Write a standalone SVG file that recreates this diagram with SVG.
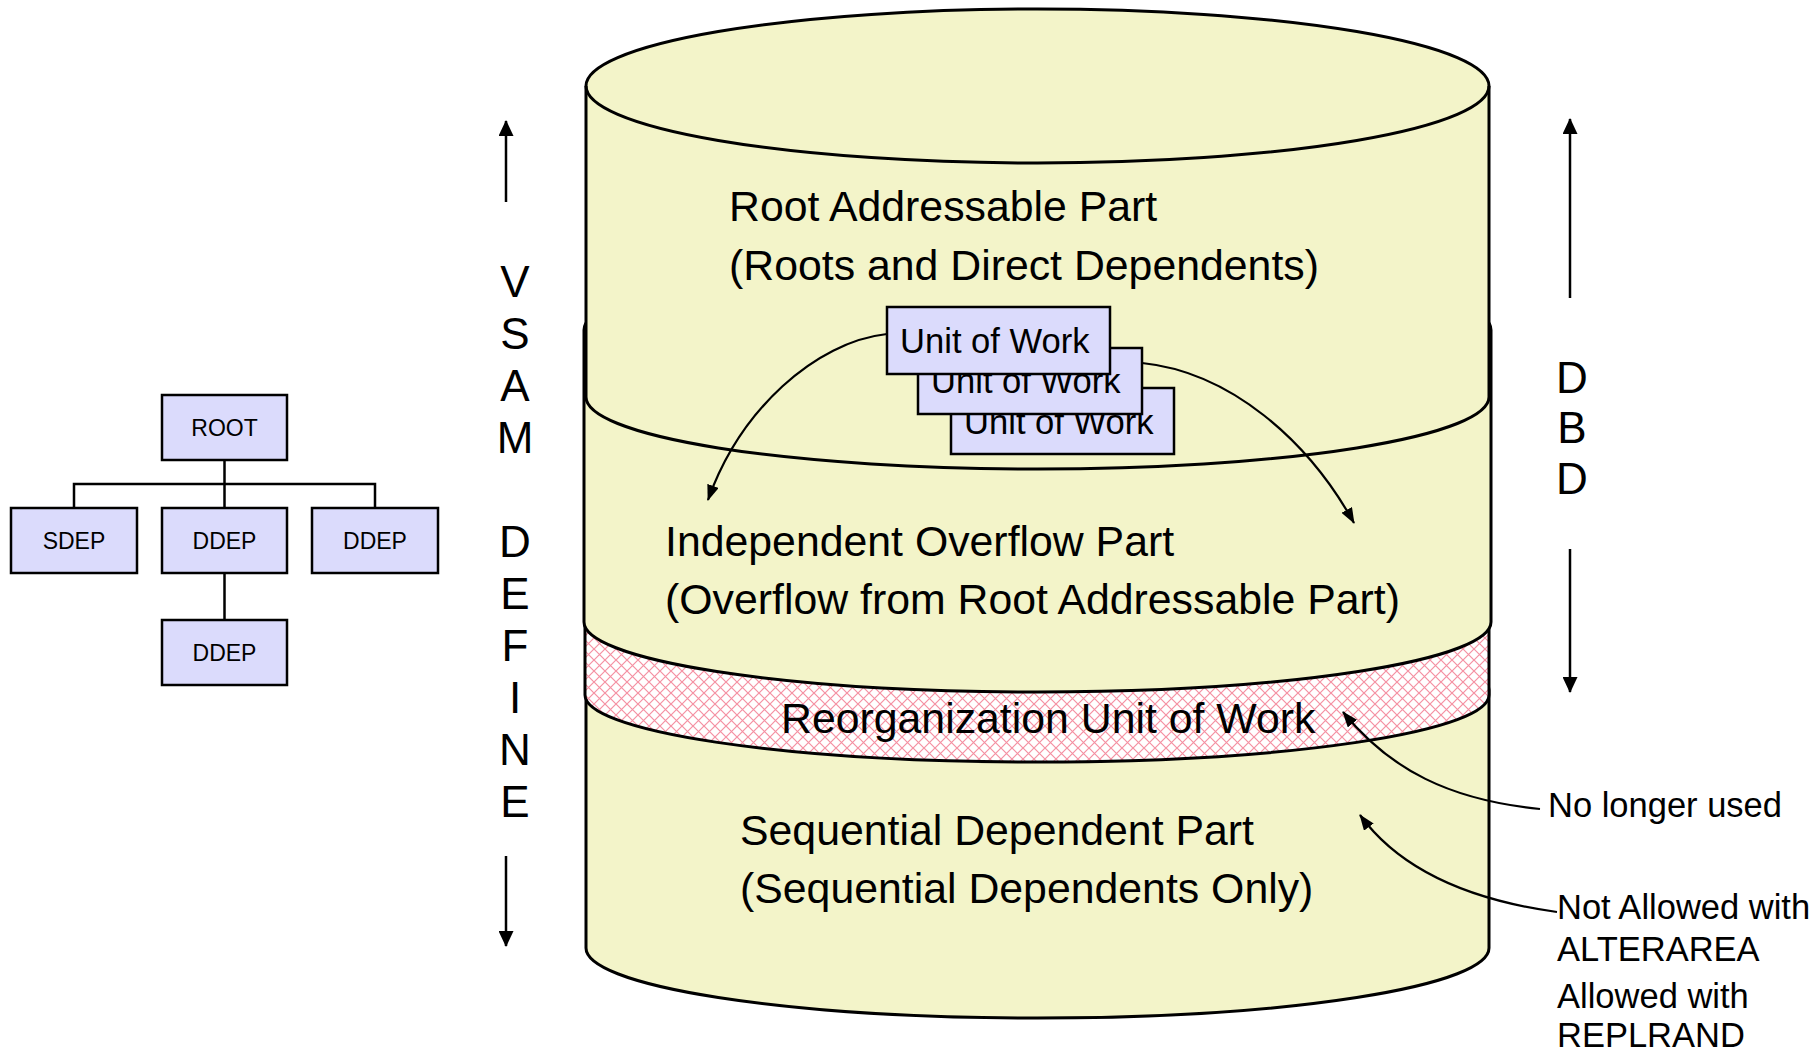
<svg xmlns="http://www.w3.org/2000/svg" width="1814" height="1054" viewBox="0 0 1814 1054">
<defs>
<style>
.t{font-family:"Liberation Sans",Arial,sans-serif;fill:#000}
.big{font-size:42.8px}
.side{font-size:34.5px}
.let{font-size:44px;text-anchor:middle}
.box{fill:#dbdbfc;stroke:#000;stroke-width:2.5}
.cyl{fill:#f3f4c9;stroke:#000;stroke-width:3}
.ln{fill:none;stroke:#000;stroke-width:2.5}
.cv{fill:none;stroke:#000;stroke-width:2.2}
.small{font-size:23px;text-anchor:middle}
.uow{font-size:34.6px}
</style>
<pattern id="hatch" patternUnits="userSpaceOnUse" width="11" height="11">
<rect width="11" height="11" fill="#ffffff"/>
<path d="M0,0 L11,11 M11,0 L0,11" stroke="#f590a2" stroke-width="1.2" fill="none"/>
</pattern>
<marker id="ah" viewBox="0 0 16 12" refX="15" refY="6" markerWidth="16" markerHeight="12" markerUnits="userSpaceOnUse" orient="auto">
<path d="M0,0 L16,6 L0,12 Z" fill="#000"/>
</marker>
<marker id="bh" viewBox="0 0 16 15" refX="15" refY="7.5" markerWidth="16" markerHeight="15" markerUnits="userSpaceOnUse" orient="auto">
<path d="M0,0 L16,7.5 L0,15 Z" fill="#000"/>
</marker>
</defs>
<rect width="1814" height="1054" fill="#ffffff"/>

<!-- Cylinder parts (back to front) -->
<g id="sequential-part">
<path class="cyl" d="M586,690 A451.5,70 0 0 1 1489,690 L1489,948 A451.5,70 0 0 1 586,948 Z"/>
<text class="t big" x="740" y="845">Sequential Dependent Part</text>
<text class="t big" x="740" y="903">(Sequential Dependents Only)</text>
</g>
<g id="reorg-uow">
<path d="M585,620 A452,70 0 0 1 1489,620 L1489,695 A452,67 0 0 1 585,695 Z" fill="url(#hatch)" stroke="#000" stroke-width="3"/>
<text class="t big" x="781" y="733">Reorganization Unit of Work</text>
</g>
<g id="overflow-part">
<path class="cyl" d="M584,330 A453.5,72 0 0 1 1491,330 L1491,622 A453.5,70 0 0 1 584,622 Z"/>
<text class="t big" x="665" y="556">Independent Overflow Part</text>
<text class="t big" x="665" y="614">(Overflow from Root Addressable Part)</text>
</g>
<g id="root-part">
<path class="cyl" d="M586,86 A451.5,77 0 0 1 1489,86 L1489,397 A451.5,72 0 0 1 586,397 Z"/>
<path fill="none" stroke="#000" stroke-width="3" d="M586,86 A451.5,77 0 0 0 1489,86"/>
<text class="t big" x="729" y="221">Root Addressable Part</text>
<text class="t big" x="729" y="280">(Roots and Direct Dependents)</text>
</g>

<!-- Unit of Work boxes -->
<g id="uow3">
<rect class="box" x="951" y="388" width="223" height="66"/>
<text class="t uow" x="964" y="434">Unit of Work</text>
</g>
<g id="uow2">
<rect class="box" x="918" y="348" width="224" height="66"/>
<text class="t uow" x="931" y="393">Unit of Work</text>
</g>
<g id="uow1">
<rect class="box" x="887" y="307" width="223" height="67"/>
<text class="t uow" x="900" y="353">Unit of Work</text>
</g>

<!-- Tree -->
<g id="tree-root"><rect class="box" x="162" y="395" width="125" height="65"/><text class="t small" x="224.5" y="436">ROOT</text></g>
<g id="tree-sdep"><rect class="box" x="11" y="508" width="126" height="65"/><text class="t small" x="74" y="549">SDEP</text></g>
<g id="tree-ddep1"><rect class="box" x="162" y="508" width="125" height="65"/><text class="t small" x="224.5" y="549">DDEP</text></g>
<g id="tree-ddep2"><rect class="box" x="312" y="508" width="126" height="65"/><text class="t small" x="375" y="549">DDEP</text></g>
<g id="tree-ddep3"><rect class="box" x="162" y="620" width="125" height="65"/><text class="t small" x="224.5" y="661">DDEP</text></g>

<!-- Side labels -->
<g id="vsam-define">
<text class="t let" x="515"><tspan x="515" y="297">V</tspan><tspan x="515" y="349">S</tspan><tspan x="515" y="401">A</tspan><tspan x="515" y="453">M</tspan><tspan x="515" y="557">D</tspan><tspan x="515" y="609">E</tspan><tspan x="515" y="661">F</tspan><tspan x="515" y="713">I</tspan><tspan x="515" y="765">N</tspan><tspan x="515" y="817">E</tspan></text>
</g>
<g id="dbd">
<text class="t let" x="1572"><tspan x="1572" y="393">D</tspan><tspan x="1572" y="443">B</tspan><tspan x="1572" y="494">D</tspan></text>
</g>
<g id="note-no-longer-used">
<text class="t side" x="1548" y="817">No longer used</text>
</g>
<g id="note-alterarea">
<text class="t side" x="1557" y="919">Not Allowed with</text>
<text class="t side" x="1557" y="961">ALTERAREA</text>
<text class="t side" x="1557" y="1008">Allowed with</text>
<text class="t side" x="1557" y="1047">REPLRAND</text>
</g>

<!-- Connectors -->
<g id="connectors">
<path class="ln" d="M224.5,460 V484 M74,508 V484 H375 V508 M224.5,484 V508 M224.5,573 V620"/>
<path class="ln" marker-end="url(#bh)" d="M506,202 V121"/>
<path class="ln" marker-end="url(#bh)" d="M506,856 V946"/>
<path class="ln" marker-end="url(#bh)" d="M1570,298 V119"/>
<path class="ln" marker-end="url(#bh)" d="M1570,549 V692"/>
<path class="cv" marker-end="url(#ah)" d="M887,334 C815,342 740,410 708,500"/>
<path class="cv" marker-end="url(#ah)" d="M1142,363 C1230,372 1308,440 1354,523"/>
<path class="cv" marker-end="url(#ah)" d="M1540,809 C1450,800 1390,770 1343,712"/>
<path class="cv" marker-end="url(#ah)" d="M1557,912 C1470,900 1400,870 1360,815"/>
</g>
</svg>
